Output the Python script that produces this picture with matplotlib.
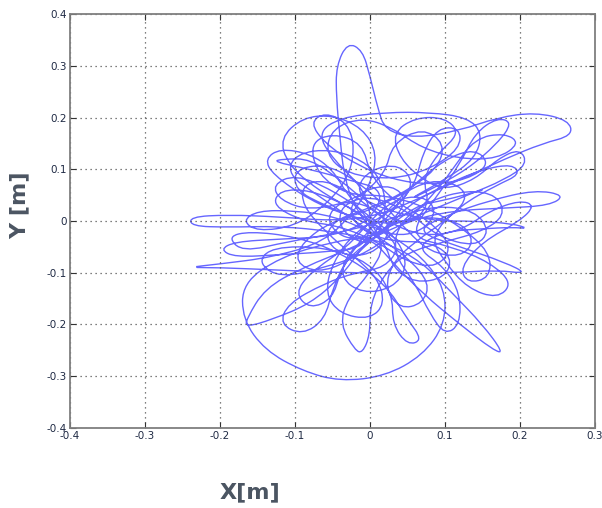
import matplotlib.pyplot as plt
import numpy as np
from matplotlib.path import Path
from matplotlib.patches import PathPatch

# trajectory control points (x, y in metres)
track = [
    (0.01, -0.03), (-0.02, 0.02), (-0.035, 0.09), (-0.04, 0.16), (-0.045, 0.24),
    (-0.045, 0.30), (-0.03, 0.345), (-0.01, 0.33), (0.0, 0.28), (0.01, 0.22),
    (0.02, 0.175), (0.06, 0.16), (0.12, 0.175), (0.17, 0.20), (0.22, 0.21),
    (0.265, 0.195), (0.27, 0.165), (0.23, 0.15), (0.18, 0.12), (0.12, 0.08),
    (0.06, 0.04), (0.01, 0.01), (-0.05, 0.0), (-0.12, 0.008), (-0.19, 0.012),
    (-0.24, 0.008), (-0.238, -0.01), (-0.19, -0.012), (-0.12, -0.01), (-0.05, -0.02),
    (0.02, -0.04), (0.07, -0.08), (0.11, -0.14), (0.15, -0.20), (0.178, -0.255),
    (0.165, -0.25), (0.12, -0.20), (0.07, -0.14), (0.03, -0.08), (0.0, -0.03),
    (-0.05, -0.04), (-0.12, -0.07), (-0.17, -0.12), (-0.17, -0.19), (-0.14, -0.25),
    (-0.09, -0.29), (-0.04, -0.31), (0.02, -0.30), (0.07, -0.26), (0.10, -0.20),
    (0.10, -0.13), (0.07, -0.07), (0.03, -0.03), (-0.02, 0.02), (-0.07, 0.06),
    (-0.11, 0.11), (-0.12, 0.16), (-0.09, 0.20), (-0.05, 0.205), (-0.01, 0.18),
    (0.01, 0.13), (0.0, 0.07), (-0.02, 0.02), (-0.06, -0.04), (-0.13, -0.07),
    (-0.20, -0.083), (-0.245, -0.09), (-0.20, -0.09), (-0.12, -0.095), (-0.04, -0.10),
    (0.04, -0.10), (0.11, -0.10), (0.17, -0.095), (0.21, -0.102), (0.18, -0.08),
    (0.12, -0.05), (0.06, -0.02), (0.10, 0.01), (0.16, 0.04), (0.22, 0.06),
    (0.26, 0.05), (0.24, 0.03), (0.18, 0.025), (0.11, 0.02), (0.05, 0.0),
    (-0.02, -0.05), (-0.09, -0.09), (-0.14, -0.13), (-0.165, -0.19), (-0.165, -0.205),
    (-0.13, -0.19), (-0.08, -0.16), (-0.04, -0.11), (-0.01, -0.05), (0.03, 0.02),
    (0.06, 0.07), (0.04, 0.11), (0.0, 0.10), (-0.02, 0.06), (0.01, 0.02),
    (0.05, -0.01), (0.08, 0.03), (0.07, 0.08), (0.09, 0.13), (0.12, 0.17),
    (0.10, 0.20), (0.06, 0.20), (0.03, 0.17), (0.04, 0.12), (0.07, 0.08),
    (0.10, 0.06), (0.14, 0.08), (0.17, 0.12), (0.20, 0.14), (0.21, 0.11),
    (0.18, 0.08), (0.13, 0.05), (0.08, 0.02), (0.03, -0.01), (-0.03, 0.01),
    (-0.08, 0.04), (-0.13, 0.09), (-0.14, 0.12), (-0.12, 0.14), (-0.08, 0.13),
    (-0.05, 0.10), (-0.03, 0.05), (0.0, 0.0), (0.02, -0.05), (0.0, -0.10),
    (-0.03, -0.15), (-0.04, -0.20), (-0.02, -0.25), (-0.01, -0.255), (0.0, -0.22),
    (0.0, -0.16), (0.02, -0.10), (0.05, -0.06), (0.10, -0.04), (0.15, -0.02),
    (0.18, 0.01), (0.17, 0.05), (0.13, 0.06), (0.08, 0.04), (0.04, 0.0),
    (0.03, -0.06), (0.06, -0.12), (0.08, -0.18), (0.10, -0.22), (0.12, -0.20),
    (0.12, -0.14), (0.10, -0.09), (0.06, -0.05), (0.10, -0.02), (0.15, -0.015),
    (0.19, -0.012), (0.212, -0.015), (0.19, -0.005), (0.14, 0.0), (0.08, 0.0),
    (0.0, 0.03), (-0.04, 0.08), (-0.08, 0.12), (-0.115, 0.12), (-0.13, 0.115),
    (-0.08, 0.10), (-0.03, 0.08), (0.02, 0.06), (0.0, 0.0), (-0.05, -0.03),
    (-0.12, -0.035), (-0.18, -0.04), (-0.20, -0.055), (-0.18, -0.07), (-0.12, -0.065),
    (-0.06, -0.06), (0.0, -0.05), (0.0, 0.05), (-0.05, 0.12), (-0.07, 0.17),
    (-0.04, 0.20), (0.02, 0.21), (0.08, 0.21), (0.13, 0.20), (0.15, 0.17),
    (0.14, 0.12), (0.10, 0.08), (0.05, 0.04), (0.08, 0.06), (0.13, 0.10),
    (0.17, 0.15), (0.19, 0.19), (0.17, 0.20), (0.14, 0.17), (0.12, 0.11),
    (0.09, 0.05), (0.05, -0.03), (0.11, -0.05), (0.16, -0.08), (0.19, -0.12),
    (0.17, -0.15), (0.13, -0.13), (0.10, -0.08), (0.08, -0.03), (0.12, 0.03),
    (0.17, 0.07), (0.20, 0.09), (0.19, 0.11), (0.15, 0.10), (0.10, 0.07),
    (0.05, 0.03), (0.02, -0.02), (-0.03, -0.04), (-0.06, 0.0), (-0.04, 0.04),
    (0.0, 0.03), (0.03, -0.01), (0.01, -0.06), (-0.03, -0.07), (-0.06, -0.04),
    (-0.05, 0.0), (-0.01, 0.02), (0.04, 0.05), (0.09, 0.10), (0.10, 0.15),
    (0.07, 0.18), (0.03, 0.15), (0.02, 0.09), (-0.02, 0.04), (-0.08, 0.02),
    (-0.12, 0.04), (-0.13, 0.07), (-0.10, 0.09), (-0.05, 0.06), (0.0, 0.01),
    (0.04, -0.04), (0.05, -0.09), (0.03, -0.13), (-0.01, -0.14), (-0.04, -0.11),
    (-0.03, -0.06), (0.01, -0.02), (0.06, 0.01), (0.12, 0.0), (0.14, -0.04),
    (0.12, -0.07), (0.08, -0.06), (0.05, -0.02), (0.02, 0.03), (-0.02, 0.08),
    (-0.06, 0.11), (-0.10, 0.10), (-0.10, 0.06), (-0.06, 0.03), (-0.01, 0.0),
    (0.03, -0.03), (0.07, -0.02), (0.09, 0.02), (0.07, 0.05), (0.03, 0.04),
    (0.0, 0.0), (-0.03, -0.05), (-0.08, -0.10), (-0.10, -0.14), (-0.08, -0.17),
    (-0.05, -0.15), (-0.04, -0.10), (-0.02, -0.05), (0.01, 0.0), (0.05, 0.06),
    (0.10, 0.12), (0.14, 0.14), (0.16, 0.11), (0.13, 0.08), (0.08, 0.07),
    (0.03, 0.08), (-0.02, 0.11), (-0.06, 0.15), (-0.08, 0.19), (-0.06, 0.21),
    (-0.03, 0.19), (-0.02, 0.14), (-0.03, 0.08), (-0.06, 0.03), (-0.10, -0.01),
    (-0.15, -0.02), (-0.17, 0.0), (-0.15, 0.02), (-0.10, 0.02), (-0.05, 0.01),
    (0.0, -0.02), (0.05, -0.07), (0.08, -0.12), (0.07, -0.16), (0.04, -0.17),
    (0.02, -0.13), (0.03, -0.08), (0.06, -0.04), (0.10, 0.0), (0.13, 0.04),
    (0.12, 0.07), (0.08, 0.08), (0.04, 0.05), (0.0, 0.02), (-0.05, 0.0),
    (-0.09, -0.04), (-0.10, -0.08), (-0.07, -0.10), (-0.03, -0.08), (0.0, -0.04),
    (0.03, 0.0), (0.05, 0.04), (0.03, 0.07), (-0.01, 0.06), (-0.03, 0.02),
    (-0.01, -0.02), (0.03, -0.04), (0.08, -0.04), (0.11, -0.07), (0.10, -0.11),
    (0.06, -0.12), (0.03, -0.09), (0.02, -0.04), (-0.02, 0.0), (-0.07, 0.05),
    (-0.11, 0.09), (-0.10, 0.13), (-0.05, 0.14), (0.0, 0.11), (0.02, 0.06),
    (0.02, 0.0), (0.0, -0.05), (-0.04, -0.02), (-0.04, 0.03), (0.0, 0.05),
    (0.05, 0.02), (0.09, -0.03), (0.14, -0.05), (0.16, -0.02), (0.14, 0.02),
    (0.09, 0.03), (0.04, 0.01), (-0.03, -0.02), (-0.11, -0.04), (-0.17, -0.06),
    (-0.19, -0.03), (-0.16, -0.02), (-0.10, -0.03), (-0.04, -0.06), (0.02, -0.12),
    (0.05, -0.19), (0.07, -0.23), (0.05, -0.24), (0.03, -0.20), (0.03, -0.14),
    (0.0, -0.08), (-0.06, -0.05), (-0.13, -0.05), (-0.15, -0.08), (-0.12, -0.11),
    (-0.06, -0.09), (0.0, -0.06), (0.05, 0.0), (0.09, 0.06), (0.11, 0.10),
    (0.14, 0.16), (0.18, 0.17), (0.20, 0.15), (0.17, 0.12), (0.12, 0.12),
    (0.07, 0.14), (0.03, 0.18), (-0.01, 0.20), (-0.05, 0.18), (-0.06, 0.13),
    (-0.03, 0.09), (0.03, 0.08), (0.08, 0.10), (0.12, 0.14), (0.12, 0.18),
    (0.09, 0.18), (0.07, 0.13), (0.06, 0.07), (0.03, 0.02), (-0.02, -0.02),
    (-0.05, -0.08), (-0.06, -0.14), (-0.04, -0.18), (0.0, -0.19), (0.02, -0.16),
    (0.01, -0.11), (-0.02, -0.07), (-0.06, -0.02), (-0.09, 0.03), (-0.09, 0.07),
    (-0.06, 0.08), (-0.02, 0.05), (0.02, 0.0), (0.07, -0.03), (0.12, -0.02),
    (0.16, 0.02), (0.20, 0.04), (0.22, 0.03), (0.20, 0.0), (0.15, -0.04),
    (0.12, -0.09), (0.13, -0.12), (0.16, -0.11), (0.16, -0.06), (0.12, -0.01),
    (0.07, 0.03), (0.02, 0.05), (-0.03, 0.05), (-0.07, 0.09), (-0.08, 0.15),
    (-0.05, 0.17), (-0.01, 0.15), (0.0, 0.09), (0.03, 0.04), (0.08, 0.0),
    (0.11, -0.05), (0.09, -0.09), (0.05, -0.08), (0.01, -0.04), (-0.04, -0.01),
    (-0.09, 0.0), (-0.13, 0.03), (-0.12, 0.06), (-0.08, 0.06), (-0.03, 0.03),
    (0.01, -0.01), (0.04, -0.05), (0.02, -0.09), (-0.02, -0.10), (-0.06, -0.12),
    (-0.11, -0.16), (-0.12, -0.20), (-0.09, -0.22), (-0.06, -0.19), (-0.05, -0.13),
    (-0.03, -0.07), (0.01, -0.03), (0.06, 0.03), (0.10, 0.04), (0.15, 0.06),
]

x_ticks = [-0.4, -0.3, -0.2, -0.1, 0, 0.1, 0.2, 0.3]
y_ticks = [-0.4, -0.3, -0.2, -0.1, 0, 0.1, 0.2, 0.3, 0.4]

fig = plt.figure(figsize=(6.02, 5.08), dpi=100)
ax = fig.add_axes([0.1163, 0.1575, 0.8721, 0.8149])

# smooth curve through the control points (quadratic B-spline drawn as Bezier path)
pts = np.array(track)
mids = (pts[:-1] + pts[1:]) / 2
verts = [pts[0]]
codes = [Path.MOVETO]
for i in range(1, len(pts) - 1):
    verts += [pts[i], mids[i]]
    codes += [Path.CURVE3, Path.CURVE3]
verts.append(pts[-1])
codes.append(Path.LINETO)
patch = PathPatch(Path(verts, codes), facecolor='none', edgecolor='#0000ff',
                  lw=1.0, alpha=0.6)
ax.add_patch(patch)

ax.set_xlim(-0.4, 0.3)
ax.set_ylim(-0.4, 0.4)
ax.set_xticks(x_ticks)
ax.set_yticks(y_ticks)
ax.set_xticklabels(['-0.4', '-0.3', '-0.2', '-0.1', '0', '0.1', '0.2', '0.3'])
ax.set_yticklabels(['-0.4', '-0.3', '-0.2', '-0.1', '0', '0.1', '0.2', '0.3', '0.4'])
ax.grid(True, linestyle=(0, (1, 3)), color='#555555', lw=0.9)
ax.tick_params(direction='in', length=4, top=True, right=True, labelsize=7.5,
               labelcolor='#1f2a44', color='#333333', pad=2)
for s in ax.spines.values():
    s.set_color('#7f7f7f')
    s.set_linewidth(1.3)

fig.text(20 / 602, 1 - 205 / 508, 'Y [m]', rotation=90, ha='center', va='center',
         fontsize=16, fontweight='bold', color='#4b5562')
fig.text(250 / 602, 1 - 492 / 508, 'X[m]', ha='center', va='center',
         fontsize=16, fontweight='bold', color='#4b5562')

fig.savefig('out.png', dpi=100)
